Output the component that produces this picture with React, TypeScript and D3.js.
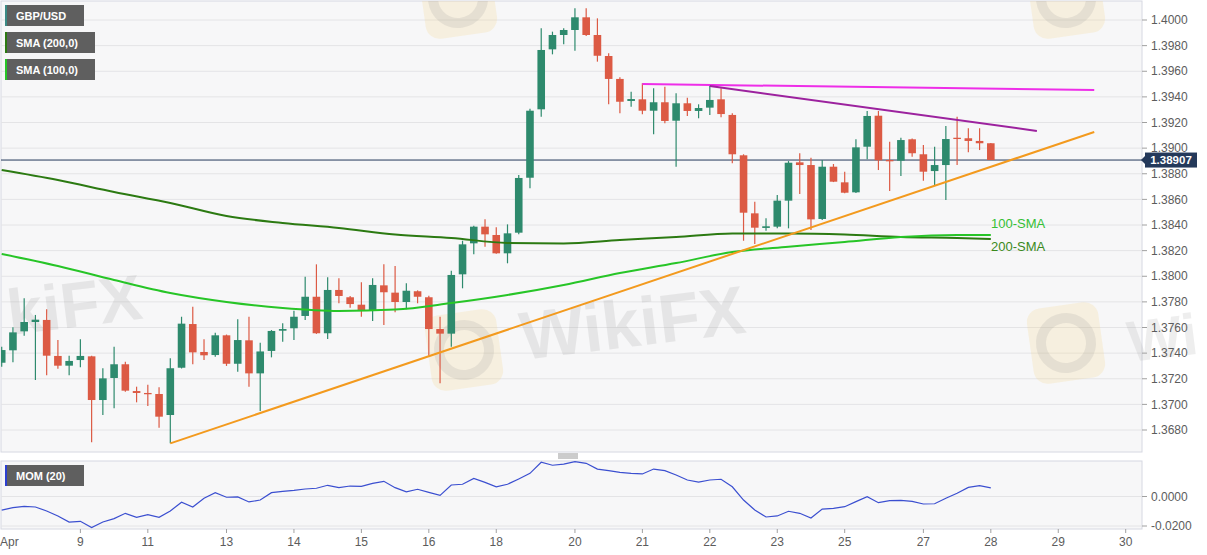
import React from 'react';
import * as d3 from 'd3';

// GBP/USD 4H candles, Apr 8 - Apr 28
const opens = [1.37325, 1.37422, 1.37570, 1.37643, 1.37659, 1.37378, 1.37302, 1.37346, 1.37375, 1.37034,
  1.37206, 1.37313, 1.37104, 1.37089, 1.37081, 1.36917, 1.37286, 1.37627, 1.37409, 1.37385,
  1.37539, 1.37317, 1.37500, 1.37242, 1.37417, 1.37575, 1.37594, 1.37690, 1.37840, 1.37555,
  1.37893, 1.37836, 1.37778, 1.37731, 1.37929, 1.37872, 1.37799, 1.37883, 1.37836, 1.37588,
  1.37552, 1.38015, 1.38257, 1.38387, 1.38322, 1.38179, 1.38340, 1.38769, 1.39303, 1.39771,
  1.39883, 1.39922, 1.40021, 1.39883, 1.39719, 1.39540, 1.39368, 1.39381, 1.39292, 1.39358,
  1.39214, 1.39350, 1.39290, 1.39316, 1.39381, 1.39259, 1.38944, 1.38491, 1.38377, 1.38387,
  1.38590, 1.38889, 1.38868, 1.38447, 1.38855, 1.38733, 1.38655, 1.39011, 1.39253, 1.38907,
  1.38902, 1.39069, 1.38952, 1.38821, 1.38868, 1.39081, 1.39077, 1.39056, 1.39038];
const highs = [1.37450, 1.37602, 1.37828, 1.37698, 1.37742, 1.37502, 1.37380, 1.37508, 1.37380, 1.37281,
  1.37450, 1.37333, 1.37138, 1.37154, 1.37133, 1.37360, 1.37684, 1.37762, 1.37508, 1.37559,
  1.37545, 1.37664, 1.37684, 1.37481, 1.37580, 1.37633, 1.37731, 1.37997, 1.38093, 1.37992,
  1.37984, 1.37846, 1.37953, 1.37984, 1.38093, 1.38080, 1.37945, 1.37890, 1.37848, 1.37684,
  1.38043, 1.38277, 1.38395, 1.38444, 1.38382, 1.38405, 1.38790, 1.39308, 1.39935, 1.39909,
  1.39935, 1.40091, 1.40091, 1.40013, 1.39740, 1.39553, 1.39440, 1.39506, 1.39467, 1.39479,
  1.39428, 1.39394, 1.39342, 1.39487, 1.39467, 1.39272, 1.38952, 1.38582, 1.38452, 1.38634,
  1.38899, 1.38960, 1.38925, 1.38907, 1.38876, 1.38816, 1.39069, 1.39290, 1.39290, 1.39050,
  1.39081, 1.39075, 1.39024, 1.39011, 1.39173, 1.39245, 1.39155, 1.39155, 1.39040];
const lows = [1.37294, 1.37328, 1.37536, 1.37190, 1.37227, 1.37278, 1.37227, 1.37289, 1.36704, 1.36917,
  1.36969, 1.37099, 1.37016, 1.36987, 1.36818, 1.36696, 1.37280, 1.37313, 1.37346, 1.37372,
  1.37300, 1.37255, 1.37138, 1.36948, 1.37367, 1.37489, 1.37502, 1.37659, 1.37550, 1.37510,
  1.37789, 1.37755, 1.37684, 1.37651, 1.37620, 1.37719, 1.37742, 1.37789, 1.37380, 1.37164,
  1.37450, 1.37906, 1.38171, 1.38231, 1.38175, 1.38101, 1.38327, 1.38686, 1.39245, 1.39732,
  1.39810, 1.39760, 1.39875, 1.39675, 1.39342, 1.39272, 1.39323, 1.39264, 1.39108, 1.39194,
  1.38855, 1.39251, 1.39233, 1.39259, 1.39241, 1.38882, 1.38277, 1.38252, 1.38355, 1.38374,
  1.38374, 1.38642, 1.38361, 1.38439, 1.38735, 1.38647, 1.38650, 1.38913, 1.38829, 1.38665,
  1.38782, 1.38933, 1.38746, 1.38712, 1.38595, 1.38868, 1.38967, 1.38985, 1.38907];
const closes = [1.37424, 1.37562, 1.37643, 1.37661, 1.37380, 1.37302, 1.37339, 1.37378, 1.37034, 1.37203,
  1.37313, 1.37107, 1.37089, 1.37079, 1.36904, 1.37282, 1.37630, 1.37406, 1.37383, 1.37539,
  1.37317, 1.37502, 1.37242, 1.37413, 1.37573, 1.37588, 1.37684, 1.37840, 1.37555, 1.37893,
  1.37846, 1.37783, 1.37737, 1.37932, 1.37875, 1.37799, 1.37887, 1.37840, 1.37588, 1.37552,
  1.38010, 1.38249, 1.38387, 1.38327, 1.38179, 1.38335, 1.38767, 1.39292, 1.39766, 1.39883,
  1.39922, 1.40021, 1.39883, 1.39721, 1.39540, 1.39362, 1.39383, 1.39292, 1.39358, 1.39212,
  1.39350, 1.39290, 1.39313, 1.39376, 1.39266, 1.38952, 1.38496, 1.38379, 1.38390, 1.38590,
  1.38886, 1.38868, 1.38444, 1.38855, 1.38738, 1.38652, 1.39006, 1.39251, 1.38905, 1.38897,
  1.39063, 1.38960, 1.38816, 1.38868, 1.39071, 1.39071, 1.39056, 1.39038, 1.38907];

// MOM (20)
const momentum = [-0.0092, -0.0076, -0.0067, -0.0071, -0.0098, -0.0132, -0.0173, -0.0168, -0.0211, -0.0173,
  -0.0150, -0.0114, -0.0141, -0.0123, -0.0141, -0.0098, -0.0039, -0.0071, -0.0012, 0.0026,
  -0.0005, -0.0003, -0.0037, -0.0024, 0.0026, 0.0035, 0.0042, 0.0051, 0.0056, 0.0076,
  0.0060, 0.0071, 0.0069, 0.0089, 0.0103, 0.0060, 0.0031, 0.0049, 0.0028, 0.0008,
  0.0078, 0.0083, 0.0123, 0.0096, 0.0066, 0.0083, 0.0119, 0.0157, 0.0232, 0.0212,
  0.0220, 0.0236, 0.0225, 0.0186, 0.0175, 0.0164, 0.0157, 0.0153, 0.0186, 0.0175,
  0.0146, 0.0112, 0.0098, 0.0112, 0.0117, 0.0066, -0.0024, -0.0092, -0.0139, -0.0132,
  -0.0100, -0.0114, -0.0146, -0.0085, -0.0080, -0.0069, -0.0035, -0.0001, -0.0042, -0.0028,
  -0.0026, -0.0033, -0.0051, -0.0049, -0.0012, 0.0022, 0.0062, 0.0073, 0.0058];

const smaIdx = [0, 5, 10, 15, 20, 25, 30, 35, 40, 45, 50, 55, 60, 65, 70, 75, 80, 85, 88];
const sma200 = [1.38829, 1.38751, 1.38658, 1.38572, 1.38470, 1.38416, 1.38377, 1.38326, 1.38299, 1.38260,
  1.38256, 1.38283, 1.38306, 1.38334, 1.38334, 1.38326, 1.38306, 1.38299, 1.38291];
const sma100 = [1.38174, 1.38080, 1.37971, 1.37869, 1.37799, 1.37752, 1.37729, 1.37740, 1.37791, 1.37854,
  1.37932, 1.38025, 1.38103, 1.38189, 1.38231, 1.38267, 1.38306, 1.38322, 1.38322];

// trend lines: [candle index, price]
const supportLine = [[15, 1.36696], [97.2, 1.39126]];
const flatResistance = [[57, 1.39500], [97.2, 1.39454]];
const fallingResistance = [[63, 1.39485], [92.1, 1.39134]];

const dayLabels = ['Apr', '9', '11', '13', '14', '15', '16', '18', '20', '21', '22', '23', '25', '27', '28', '29', '30'];
const dayIdx = [0, 7, 13, 20, 26, 32, 38, 44, 51, 57, 63, 69, 75, 82, 88, 94, 100];
const priceTicks = [1.368, 1.370, 1.372, 1.374, 1.376, 1.378, 1.380, 1.382, 1.384, 1.386,
  1.388, 1.390, 1.392, 1.394, 1.396, 1.398, 1.400];
const momTicks = [0, -0.02];
const lastPrice = 1.38907;

const font = 'Liberation Sans, Arial, sans-serif';

const Logo: React.FC<{ x: number, y: number }> = ({ x, y }) => (
  <g transform={`translate(${x}, ${y}) rotate(-8)`}>
    <rect x={-36} y={-38} width={72} height={76} rx={14} fill="#f3d37c" opacity={0.2} />
    <circle r={25} fill="none" stroke="#8f8f8f" strokeWidth={10} opacity={0.16} />
  </g>
);

const App: React.FC = () => {
  const width = 1207;
  const height = 555;
  const plotLeft = 1;
  const plotRight = 1142;
  const mainTop = 1;
  const mainBottom = 452;
  const momTop = 461;
  const momBottom = 529;

  const up = '#2e8a6d';
  const down = '#dc5a44';

  const xScale = d3.scaleLinear().domain([0, 100]).range([1.7, 1125.7]);
  const yScale = d3.scaleLinear().domain([1.368, 1.4]).range([430, 20]);
  const mScale = d3.scaleLinear().domain([-0.02, 0]).range([526, 496.5]);

  const smaLine = d3.line<number>()
    .x((_, i) => xScale(smaIdx[i]))
    .y(d => yScale(d))
    .curve(d3.curveMonotoneX);
  const trend = d3.line<number[]>().x(d => xScale(d[0])).y(d => yScale(d[1]));
  const momLine = d3.line<number>().x((_, i) => xScale(i)).y(d => mScale(d));

  const bodyW = 7.6;
  const lastY = yScale(lastPrice);

  const legends = [
    { label: 'GBP/USD', y: 5, w: 79, c: '#3b8a85' },
    { label: 'SMA (200,0)', y: 32, w: 90, c: '#2c7a12' },
    { label: 'SMA (100,0)', y: 59, w: 90, c: '#27c527' },
  ];

  return (
    <svg width={width} height={height} style={{ position: 'absolute', left: 0, top: 0, background: '#fff' }} fontFamily={font}>
      <defs>
        <clipPath id="mainClip">
          <rect x={plotLeft} y={mainTop} width={plotRight - plotLeft} height={mainBottom - mainTop} />
        </clipPath>
      </defs>
      {/* panels */}
      <rect x={plotLeft} y={mainTop} width={plotRight - plotLeft} height={mainBottom - mainTop} fill="#f7f7f8" stroke="#d6d8e2" />
      <rect x={plotLeft} y={momTop} width={plotRight - plotLeft} height={momBottom - momTop} fill="#f7f7f8" stroke="#d6d8e2" />

      {priceTicks.map(t => (
        <line key={t} x1={plotLeft} x2={plotRight} y1={yScale(t)} y2={yScale(t)} stroke="#e4e4e6" />
      ))}
      {momTicks.map(t => (
        <line key={t} x1={plotLeft} x2={plotRight} y1={mScale(t)} y2={mScale(t)} stroke="#e4e4e6" />
      ))}

      {/* watermarks */}
      <g clipPath="url(#mainClip)">
        <Logo x={464} y={350} />
        <Logo x={1066} y={343} />
        <Logo x={458} y={-2} />
        <Logo x={1066} y={-2} />
        <text x={523} y={360} fontSize={68} fontWeight="bold" fill="#8f8f8f" opacity={0.16} transform="rotate(-7 523 360)">WikiFX</text>
      </g>
      <text x={10} y={335} fontSize={64} fontWeight="bold" fill="#8f8f8f" opacity={0.16} transform="rotate(-7 10 335)">kiFX</text>
      <text x={1130} y={362} fontSize={58} fontWeight="bold" fill="#8f8f8f" opacity={0.14} transform="rotate(-7 1130 362)">Wi</text>

      {/* current price line */}
      <line x1={plotLeft} x2={plotRight} y1={lastY} y2={lastY} stroke="#24395a" strokeWidth={1} />

      {/* candles */}
      <g clipPath="url(#mainClip)">
        {opens.map((o, i) => {
          const c = closes[i];
          const col = c >= o ? up : down;
          const x = xScale(i);
          const top = yScale(Math.max(o, c));
          const bot = yScale(Math.min(o, c));
          return (
            <g key={i}>
              <line x1={x} x2={x} y1={yScale(highs[i])} y2={yScale(lows[i])} stroke={col} strokeWidth={1.2} />
              <rect x={x - bodyW / 2} y={top} width={bodyW} height={Math.max(bot - top, 1.2)} fill={col} />
            </g>
          );
        })}

        <path d={smaLine(sma200) || ''} fill="none" stroke="#2c7a12" strokeWidth={2} />
        <path d={smaLine(sma100) || ''} fill="none" stroke="#27c527" strokeWidth={2} />

        <path d={trend(supportLine) || ''} fill="none" stroke="#f39a1e" strokeWidth={2} />
        <path d={trend(flatResistance) || ''} fill="none" stroke="#ee2ee8" strokeWidth={2} />
        <path d={trend(fallingResistance) || ''} fill="none" stroke="#9c229e" strokeWidth={2} />
      </g>

      <text x={991} y={228} fontSize={13} fill="#35c035">100-SMA</text>
      <text x={991} y={251} fontSize={13} fill="#3a8a1c">200-SMA</text>

      {/* legends */}
      {legends.map(l => (
        <g key={l.label}>
          <rect x={5} y={l.y} width={l.w} height={21} fill="#5f5f5f" />
          <rect x={5} y={l.y} width={2} height={21} fill={l.c} />
          <text x={16} y={l.y + 14.5} fontSize={11} fontWeight="bold" fill="#fff">{l.label}</text>
        </g>
      ))}
      <rect x={5} y={465} width={79} height={21} fill="#5f5f5f" />
      <rect x={5} y={465} width={2} height={21} fill="#2c3fd0" />
      <text x={16} y={479.5} fontSize={11} fontWeight="bold" fill="#fff">MOM (20)</text>

      {/* momentum */}
      <path d={momLine(momentum) || ''} fill="none" stroke="#3b4fd0" strokeWidth={1.2} />

      {/* splitter handle */}
      {[454, 456, 458].map(y => (
        <line key={y} x1={558} x2={578} y1={y} y2={y} stroke="#7d7d7d" strokeWidth={0.8} />
      ))}

      {/* right axis */}
      {priceTicks.map(t => (
        <g key={t} transform={`translate(${plotRight}, ${yScale(t)})`}>
          <line x2={5} stroke="#a0a0a0" />
          <text x={9} dy="0.35em" fontSize={12} fill="#5c5c5c">{t.toFixed(4)}</text>
        </g>
      ))}
      {momTicks.map(t => (
        <g key={t} transform={`translate(${plotRight}, ${mScale(t)})`}>
          <line x2={5} stroke="#a0a0a0" />
          <text x={9} dy="0.35em" fontSize={12} fill="#5c5c5c">{t.toFixed(4)}</text>
        </g>
      ))}

      {/* last price tag */}
      <g transform={`translate(0, ${lastY})`}>
        <path d={`M${plotRight - 1},0 L${plotRight + 4},-5 L${plotRight + 4},5 Z`} fill="#24395a" />
        <rect x={plotRight + 3} y={-7.5} width={52} height={15} fill="#24395a" />
        <text x={plotRight + 29} dy="0.36em" fontSize={11.5} fontWeight="bold" fill="#fff" textAnchor="middle">{lastPrice.toFixed(5)}</text>
      </g>

      {/* bottom axis */}
      {dayLabels.map((l, i) => {
        const x = xScale(dayIdx[i]);
        return (
          <g key={l}>
            {i > 0 && <line x1={x} x2={x} y1={momBottom} y2={momBottom + 4} stroke="#a0a0a0" />}
            <text x={i === 0 ? 0 : x} y={546} fontSize={12} fill="#5c5c5c" textAnchor={i === 0 ? 'start' : 'middle'}>{l}</text>
          </g>
        );
      })}
    </svg>
  );
};

export default App;
